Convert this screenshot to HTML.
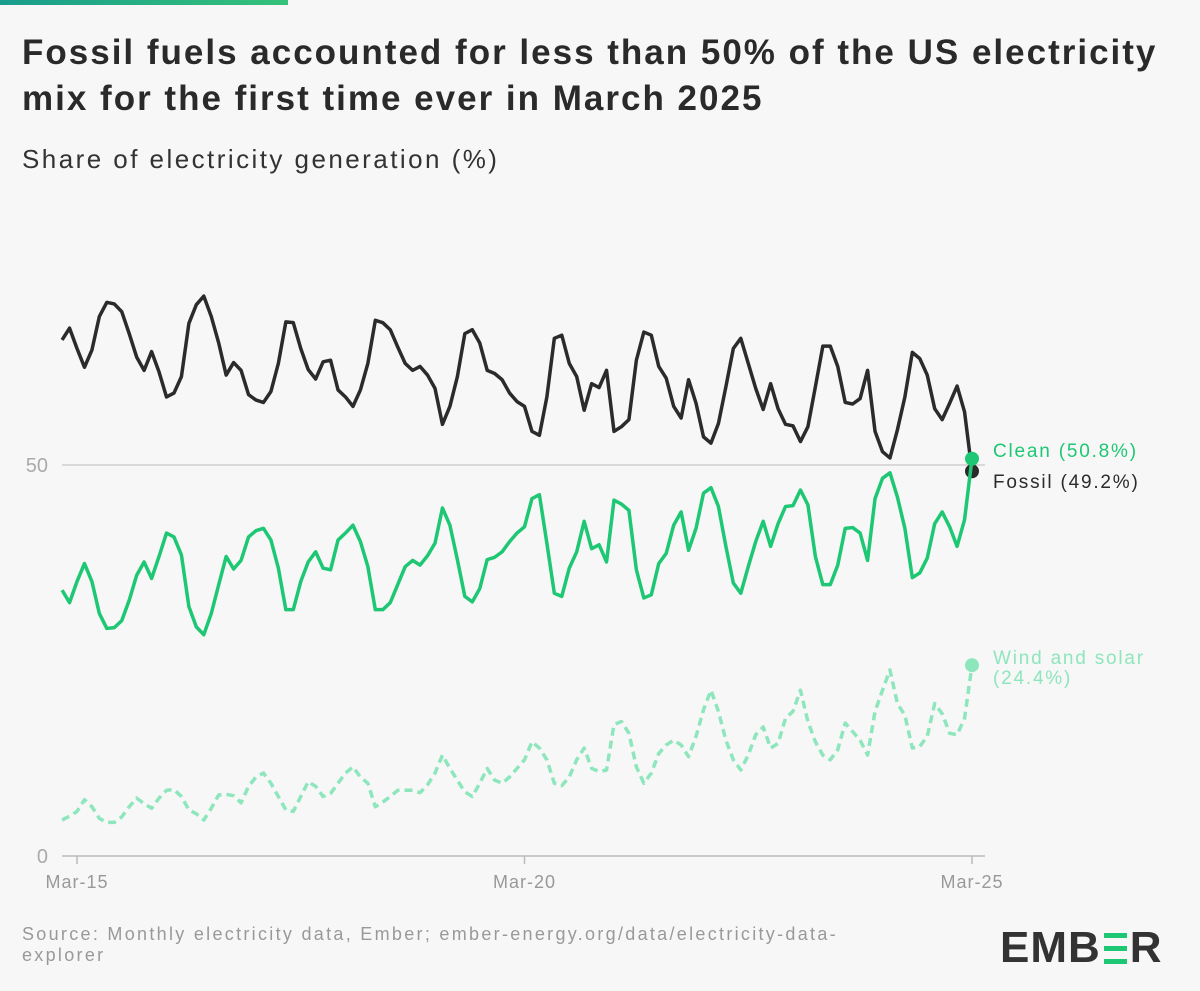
<!DOCTYPE html>
<html><head><meta charset="utf-8"><style>
body{margin:0;background:#f7f7f7;width:1200px;height:991px;overflow:hidden;font-family:"Liberation Sans",sans-serif;position:relative}
.abs{position:absolute;margin:0}
</style></head><body>
<div class="abs" style="left:0;top:0;width:288px;height:5px;background:linear-gradient(90deg,#1a9c8c,#35c27a)"></div>
<h1 class="abs" style="left:22px;top:30px;width:1175px;font-size:35px;letter-spacing:2px;line-height:46px;font-weight:bold;color:#2a2a2a">Fossil fuels accounted for less than 50% of the US electricity mix for the first time ever in March 2025</h1>
<div class="abs" style="left:22px;top:144px;font-size:26px;letter-spacing:2.45px;color:#333">Share of electricity generation (%)</div>
<svg class="abs" style="left:0;top:0" width="1200" height="991" id="chart"></svg>
<div class="abs" style="left:22px;top:924px;width:870px;font-size:18px;letter-spacing:2.3px;line-height:21px;color:#999">Source: Monthly electricity data, Ember; ember-energy.org/data/electricity-data-explorer</div>
<div class="abs" style="left:1000px;top:923px;font-size:44px;font-weight:bold;color:#333;letter-spacing:1px;display:flex;align-items:center;height:50px">EMB<span style="display:inline-block;width:23px;height:31px;margin:0 3px;background:linear-gradient(#1ec773 0 5px,transparent 5px 13px,#1ec773 13px 18px,transparent 18px 26px,#1ec773 26px 31px)"></span>R</div>
<script>
const fossil=[66.0,67.5,64.9,62.5,64.7,69.0,70.8,70.6,69.6,66.8,63.8,62.1,64.5,61.9,58.7,59.2,61.3,68.1,70.5,71.6,69.0,65.6,61.5,63.1,62.1,59.0,58.3,58.0,59.4,63.0,68.3,68.2,64.9,62.2,61.0,63.2,63.4,59.6,58.7,57.5,59.6,63.0,68.5,68.2,67.3,65.1,63.0,62.1,62.6,61.5,59.8,55.2,57.5,61.3,66.8,67.3,65.6,62.1,61.7,60.9,59.2,58.1,57.5,
54.3,53.8,58.7,66.2,66.6,63.0,61.3,57.0,60.4,59.9,62.1,54.3,54.9,55.8,63.4,67.0,66.6,62.6,61.1,57.5,56.0,60.9,57.9,53.6,52.8,55.3,60.0,64.9,66.2,63.0,59.8,57.1,60.4,57.2,55.2,55.0,53.0,54.9,60.0,65.2,65.2,62.6,58.0,57.8,58.5,62.1,54.3,51.7,50.9,54.5,58.7,64.4,63.6,61.5,57.2,55.8,57.9,60.1,56.8,49.2];
const clean=[34.0,32.4,35.1,37.4,35.1,31.0,29.1,29.2,30.1,32.7,35.9,37.6,35.5,38.3,41.3,40.8,38.5,31.9,29.3,28.3,31.0,34.7,38.3,36.7,37.8,40.8,41.6,41.9,40.4,36.8,31.5,31.5,35.1,37.6,38.9,36.8,36.6,40.4,41.3,42.3,40.2,37.0,31.5,31.5,32.4,34.7,37.0,37.8,37.2,38.4,40.0,44.5,42.3,37.9,33.2,32.5,34.2,37.9,38.2,38.9,40.2,41.3,42.1,
45.7,46.2,40.0,33.6,33.2,36.8,38.9,42.8,39.3,39.8,37.6,45.5,45.0,44.2,36.6,33.0,33.4,37.4,38.7,42.3,44.0,39.1,41.9,46.4,47.1,44.7,39.6,34.9,33.6,37.0,40.2,42.8,39.6,42.5,44.7,44.8,46.8,44.9,38.3,34.7,34.7,37.2,41.9,42.0,41.3,37.8,45.7,48.3,49.0,45.9,41.9,35.6,36.2,38.1,42.5,44.0,42.1,39.6,43.0,50.8];
const windSolar=[4.6,5.1,5.7,7.2,6.3,4.8,4.3,4.3,5.0,6.3,7.4,6.7,6.1,7.4,8.4,8.5,7.6,5.9,5.4,4.6,6.1,7.8,7.9,7.7,6.8,8.9,10.1,10.6,9.3,7.6,5.9,5.7,7.6,9.5,8.9,7.6,8.0,9.3,10.6,11.4,10.1,9.3,6.3,6.9,7.6,8.4,8.4,8.4,8.1,9.1,10.6,12.9,11.2,9.7,8.2,7.6,9.3,11.2,9.7,9.3,10.1,11.2,12.3,14.6,13.8,12.3,9.3,9.0,10.1,12.3,13.8,11.2,10.8,11.0,16.8,17.2,15.7,11.4,9.3,10.6,13.1,14.2,14.8,14.2,12.7,15.3,18.7,21.2,18.5,14.8,12.3,11.0,12.9,15.5,16.5,13.8,14.4,17.6,18.5,21.2,17.2,14.6,12.9,12.3,13.6,17.0,15.9,14.8,12.9,18.5,21.2,23.8,19.5,18.0,13.8,14.0,15.3,19.5,18.2,15.7,15.5,17.6,24.4];
const yTicks=[0,50];
const xTickLabels=["Mar-15","Mar-20","Mar-25"];
const xTickIdx=[2,62,122];

const NS="http://www.w3.org/2000/svg";
const svg=document.getElementById('chart');
const X=i=>77+(i-2)*(972-77)/120;
const Y=v=>856-v*(856-465)/50;
function mk(t,a){const e=document.createElementNS(NS,t);for(const k in a)e.setAttribute(k,a[k]);svg.appendChild(e);return e;}
yTicks.forEach(t=>{
  const l=mk('line',{x1:62,x2:985,y1:Y(t),y2:Y(t),stroke:t===0?'#bbb':'#cfcfcf','stroke-width':1.5});
  
  
  const tx=mk('text',{x:48,y:Y(t)+7,'text-anchor':'end','font-size':20,fill:'#aaa','font-family':'Liberation Sans, sans-serif'});
  tx.textContent=t;
  
  
});
xTickIdx.forEach((ix,k)=>{
  const l=mk('line',{x1:X(ix),x2:X(ix),y1:856,y2:864,stroke:'#bbb','stroke-width':1.5});
  
  
  const tx=mk('text',{x:X(ix),y:888,'text-anchor':'middle','font-size':18,'letter-spacing':1,fill:'#999','font-family':'Liberation Sans, sans-serif'});
  tx.textContent=xTickLabels[k];
  
  
});
function line(data,color,name,dash){
  const p=mk('polyline',{points:data.map((v,i)=>X(i)+','+Y(v)).join(' '),fill:'none',stroke:color,'stroke-width':3.5,'stroke-linejoin':'round'});
  if(dash)p.setAttribute('stroke-dasharray',dash);
  
  
  const n=data.length-1;
  const c=mk('circle',{cx:X(n),cy:Y(data[n]),r:7,fill:color});
  
  
}
line(windSolar,'#8ee6bd','wind-solar-line','8 5');
line(fossil,'#2b2b2b','fossil-line');
line(clean,'#1ec773','clean-line');
function lab(txt,y,color,name){
  const t=mk('text',{x:993,y:y,'font-size':19,'letter-spacing':1.8,fill:color,'font-family':'Liberation Sans, sans-serif'});
  t.textContent=txt;
  
  
}
lab('Clean ('+clean[clean.length-1]+'%)',457,'#1ec773','clean-label');
lab('Fossil ('+fossil[fossil.length-1]+'%)',488,'#2b2b2b','fossil-label');
lab('Wind and solar',664,'#8ee6bd','wind-solar-label');
lab('('+windSolar[windSolar.length-1]+'%)',684,'#8ee6bd','wind-solar-value');
</script>
</body></html>
